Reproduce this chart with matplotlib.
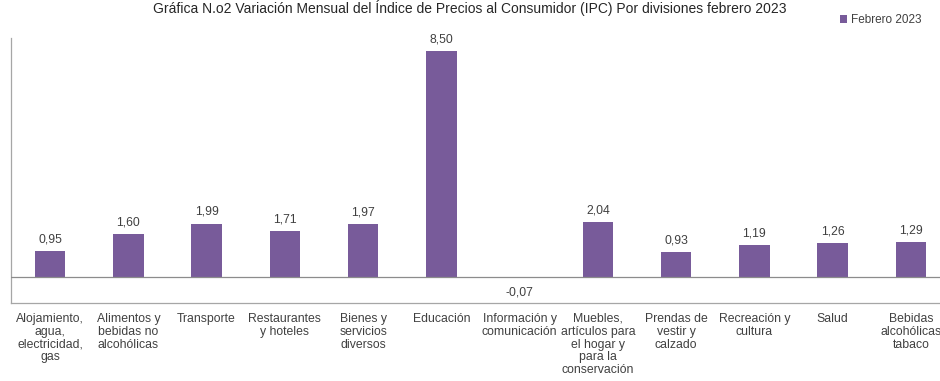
import matplotlib.pyplot as plt

plt.rcParams['font.family'] = ['Liberation Sans', 'DejaVu Sans']

# Variación mensual del IPC por divisiones, febrero 2023
divisiones = [
    'Alojamiento,\nagua,\nelectricidad,\ngas',
    'Alimentos y\nbebidas no\nalcohólicas',
    'Transporte',
    'Restaurantes\ny hoteles',
    'Bienes y\nservicios\ndiversos',
    'Educación',
    'Información y\ncomunicación',
    'Muebles,\nartículos para\nel hogar y\npara la\nconservación',
    'Prendas de\nvestir y\ncalzado',
    'Recreación y\ncultura',
    'Salud',
    'Bebidas\nalcohólicas\ntabaco',
]
febrero_2023 = [0.95, 1.60, 1.99, 1.71, 1.97, 8.50, -0.07, 2.04, 0.93, 1.19, 1.26, 1.29]

color = '#785b9a'

fig = plt.figure(figsize=(9.4, 3.81), dpi=100)
ax = fig.add_axes([11 / 940, 78 / 381, 939 / 940, 265 / 381])

x = range(len(divisiones))
bars = ax.bar(x, febrero_2023, width=0.39, color=color, label='Febrero 2023', zorder=2)

ax.set_xlim(-0.5, len(divisiones) - 0.5)
ax.set_ylim(-1.0, 9.0)
ax.axhline(0, color='#8c8c8c', lw=0.9, zorder=3)

for xi, v in zip(x, febrero_2023):
    txt = f'{v:.2f}'.replace('.', ',')
    if v >= 0:
        ax.text(xi, v + 0.22, txt, ha='center', va='bottom', fontsize=8.8, color='#404040')
    else:
        ax.text(xi, v - 0.3, txt, ha='center', va='top', fontsize=8.8, color='#404040')

ax.set_yticks([])
ax.set_xticks(list(x))
ax.set_xticklabels(divisiones, fontsize=8.8, color='#404040', linespacing=1.1)
ax.tick_params(axis='x', length=0, pad=7)

for side in ['top', 'right']:
    ax.spines[side].set_visible(False)
ax.spines['left'].set_color('#a6a6a6')
ax.spines['bottom'].set_color('#a6a6a6')
ax.spines['left'].set_linewidth(0.9)
ax.spines['bottom'].set_linewidth(0.9)

fig.legend(handles=[bars], labels=['Febrero 2023'], loc='upper right',
           bbox_to_anchor=(0.985, 0.975), frameon=False, fontsize=8.5,
           handlelength=0.6, handleheight=0.6, handletextpad=0.3, borderaxespad=0,
           labelcolor='#404040')

fig.text(0.5, 1.0, 'Gráfica N.o2 Variación Mensual del Índice de Precios al Consumidor (IPC) Por divisiones febrero 2023',
         ha='center', va='top', fontsize=10, color='#262626')

fig.savefig('out.png', dpi=100)
